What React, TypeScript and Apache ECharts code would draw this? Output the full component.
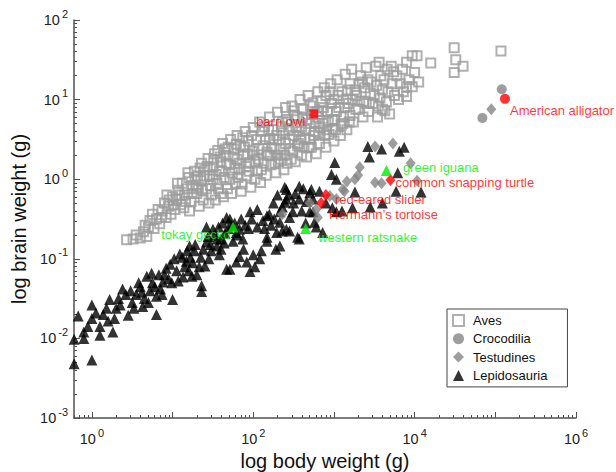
import React, { useEffect, useRef } from "react";
import * as echarts from "echarts";

// All values are log10 of grams: [log body weight, log brain weight]
const avesLog: number[][] = [
  [0.43, -0.76], [0.51, -0.75], [0.6, -0.74], [0.68, -0.72], [0.64, -0.66], [0.7, -0.6], [0.72, -0.52], [0.77, -0.62], [0.75, -0.44],
  [0.8, -0.5], [0.84, -0.56], [0.87, -0.4], [0.9, -0.3], [0.92, -0.48], [0.95, -0.34], [0.98, -0.44], [1.0, -0.22], [0.96, -0.26],
  [1.03, -0.38], [1.05, -0.25], [1.07, -0.14], [1.1, -0.32], [1.12, -0.05], [1.14, -0.36], [1.15, -0.2], [1.18, -0.12], [1.2, 0.02], [1.21, -0.4],
  [1.23, -0.28], [1.25, -0.08], [1.27, 0.1], [1.3, -0.18], [1.31, 0.04], [1.33, -0.34], [1.35, -0.02], [1.36, 0.2], [1.38, -0.26], [1.4, 0.12], [1.29, -0.12],
  [1.42, -0.12], [1.44, 0.26], [1.45, -0.3], [1.46, 0.05], [1.48, -0.2], [1.5, 0.15], [1.52, 0.32], [1.53, -0.26], [1.55, -0.05], [1.56, 0.36], [1.58, 0.1], [1.6, -0.18], [1.6, 0.22], [1.5, 0.0],
  [1.62, 0.45], [1.63, -0.22], [1.64, 0.02], [1.66, 0.3], [1.68, -0.12], [1.7, 0.18], [1.72, 0.5], [1.73, -0.18], [1.74, 0.08], [1.76, 0.38], [1.78, -0.05], [1.8, 0.25], [1.8, 0.55], [1.69, 0.4], [1.77, 0.14],
  [1.82, 0.12], [1.84, 0.42], [1.85, -0.15], [1.86, -0.06], [1.88, 0.3], [1.9, 0.6], [1.91, 0.16], [1.92, 0.04], [1.94, 0.48], [1.96, 0.2], [1.97, -0.1], [1.99, 0.35], [2.0, 0.65], [1.87, 0.52], [1.93, 0.32],
  [2.02, 0.0], [2.03, 0.22], [2.04, 0.5], [2.06, 0.25], [2.08, 0.72], [2.09, -0.04], [2.1, 0.12], [2.11, 0.6], [2.12, 0.42], [2.14, 0.66], [2.16, 0.05], [2.17, 0.34], [2.18, 0.3], [2.2, 0.78], [2.2, 0.5], [2.07, 0.38],
  [2.22, 0.18], [2.23, 0.4], [2.24, 0.62], [2.26, 0.38], [2.28, 0.08], [2.29, 0.55], [2.3, 0.84], [2.31, 0.22], [2.32, 0.5], [2.34, 0.25], [2.35, 0.66], [2.36, 0.72], [2.38, 0.12], [2.4, 0.9], [2.4, 0.45], [2.3, 0.3],
  [2.42, 0.2], [2.43, 0.72], [2.44, 0.62], [2.46, 0.38], [2.47, 0.25], [2.48, 0.92], [2.5, 0.55], [2.51, 0.8], [2.52, 0.22], [2.54, 0.78], [2.55, 0.42], [2.56, 0.45], [2.57, 0.6], [2.58, 1.0], [2.6, 0.3], [2.6, 0.66], [2.5, 0.86],
  [2.62, 0.88], [2.63, 0.4], [2.64, 0.52], [2.66, 0.28], [2.67, 0.75], [2.68, 1.05], [2.7, 0.7], [2.71, 0.92], [2.72, 0.4], [2.74, 0.96], [2.75, 0.55], [2.76, 0.6], [2.78, 0.32], [2.79, 0.85], [2.8, 1.1], [2.8, 0.78], [2.7, 0.5],
  [2.82, 0.45], [2.83, 0.65], [2.84, 0.98], [2.86, 0.7], [2.87, 0.9], [2.88, 1.15], [2.9, 0.4], [2.91, 0.62], [2.92, 0.85], [2.94, 0.56], [2.95, 1.1], [2.96, 1.2], [2.98, 0.75], [3.0, 1.0], [3.0, 0.48], [2.9, 1.05],
  [3.02, 0.62], [3.03, 0.85], [3.04, 1.25], [3.06, 0.9], [3.08, 0.55], [3.1, 1.1], [3.11, 0.7], [3.12, 0.78], [3.14, 1.32], [3.15, 1.0], [3.16, 0.62], [3.18, 0.95], [3.2, 1.2], [3.2, 0.8],
  [3.22, 1.38], [3.24, 0.72], [3.26, 1.12], [3.28, 1.05], [3.3, 0.88], [3.32, 0.98], [3.33, 1.3], [3.36, 0.78], [3.38, 1.15], [3.4, 0.95], [3.4, 1.4], [3.35, 1.22],
  [3.43, 0.85], [3.45, 1.08], [3.46, 1.22], [3.5, 1.05], [3.52, 1.42], [3.54, 0.78], [3.55, 0.92], [3.56, 1.47], [3.58, 1.3], [3.6, 1.12], [3.6, 0.88],
  [3.63, 0.86], [3.65, 0.97], [3.66, 1.38], [3.69, 0.82], [3.71, 1.42], [3.72, 1.2], [3.75, 1.05], [3.78, 1.3], [3.8, 1.0],
  [3.85, 1.38], [3.86, 1.1], [3.9, 1.47], [3.9, 1.16], [3.9, 1.04], [3.93, 1.25], [3.97, 1.55], [3.97, 1.16], [4.0, 1.34], [4.03, 1.55], [4.05, 1.22],
  [4.2, 1.46], [4.49, 1.65], [4.51, 1.5], [4.6, 1.42], [4.49, 1.34], [5.07, 1.61],
  [0.55, -0.7], [0.66, -0.58], [0.82, -0.38], [0.86, -0.48], [0.93, -0.2], [1.01, -0.32], [1.06, -0.05], [1.09, -0.2], [1.16, -0.28], [1.19, 0.08],
  [1.24, -0.18], [1.28, 0.0], [1.32, -0.1], [1.34, 0.14], [1.37, -0.14], [1.39, 0.04], [1.43, 0.16], [1.47, -0.08], [1.51, 0.24], [1.54, 0.06],
  [1.57, -0.12], [1.59, 0.28], [1.61, 0.1], [1.65, 0.38], [1.67, 0.2], [1.71, 0.0], [1.75, 0.28], [1.79, 0.44], [1.81, 0.02], [1.83, 0.2],
  [1.89, 0.4], [1.95, 0.1], [1.98, 0.55], [2.01, 0.3], [2.05, 0.1], [2.13, 0.2], [2.15, 0.5], [2.19, 0.62], [2.21, 0.3], [2.25, 0.5],
  [2.27, 0.2], [2.33, 0.38], [2.37, 0.58], [2.39, 0.3], [2.41, 0.75], [2.45, 0.5], [2.49, 0.35], [2.53, 0.65], [2.59, 0.5], [2.61, 0.78],
  [2.65, 0.62], [2.69, 0.4], [2.73, 0.82], [2.77, 0.7], [2.81, 0.58], [2.85, 0.85], [2.89, 0.55], [2.93, 0.72], [2.97, 0.95], [2.99, 0.62],
  [3.01, 0.75], [3.05, 1.05], [3.09, 0.68], [3.13, 0.9], [3.17, 1.12], [3.19, 0.72], [3.23, 1.0], [3.27, 0.88], [3.31, 1.2], [3.37, 0.98],
  [3.42, 1.25], [3.48, 0.95], [3.53, 1.18], [3.57, 1.02], [3.62, 1.25], [3.67, 1.1], [3.74, 1.35], [3.82, 1.2],
];

const crocodiliaLog: number[][] = [
  [5.08, 1.13], [4.84, 0.77],
];

const testudinesLog: number[][] = [
  [3.73, 0.45], [3.51, 0.41], [3.95, 0.2], [4.03, -0.02], [3.32, 0.15], [3.26, 0.0], [3.51, -0.04], [3.59, -0.05],
  [3.13, -0.15], [3.03, -0.25], [2.95, -0.21], [2.8, -0.48], [3.11, -0.13], [3.16, -0.03], [2.36, -0.44], [2.7, -0.3],
  [3.3, 0.05], [2.78, -0.38], [4.95, 0.88],
];

const lepidosauriaLog: number[][] = [
  [-0.22, -2.01], [-0.22, -2.32], [0.0, -2.27], [-0.17, -1.72], [0.0, -1.58], [0.0, -1.75], [-0.1, -1.92], [-0.1, -2.0],
  [0.1, -1.85], [0.1, -1.96], [0.26, -1.92], [0.22, -1.51], [0.14, -1.7], [0.38, -1.38], [0.45, -1.71], [0.3, -1.62], [0.2, -1.78], [0.33, -1.5],
  [0.63, -1.6], [0.55, -1.45], [0.68, -1.22], [0.8, -1.47], [0.8, -1.7], [0.97, -1.07], [1.0, -1.51], [0.88, -1.29],
  [0.6, -1.35], [0.72, -1.4], [0.5, -1.55], [0.9, -1.2], [0.75, -1.3], [0.85, -1.38], [0.65, -1.5], [0.95, -1.25],
  [1.13, -1.23], [1.09, -0.94], [1.17, -1.03], [1.36, -1.34], [1.36, -1.41], [1.4, -1.09], [1.27, -0.9], [1.42, -0.79],
  [1.05, -1.15], [1.2, -1.15], [1.25, -1.05], [1.3, -1.2], [1.15, -1.1], [1.35, -0.98], [1.45, -1.0], [1.22, -0.98], [1.48, -0.9], [1.21, -0.84],
  [1.55, -0.84], [1.67, -1.13], [1.71, -1.13], [1.83, -0.97], [1.92, -1.04], [1.96, -1.16], [1.79, -1.04], [1.6, -0.75],
  [1.42, -0.6], [1.71, -0.5], [1.5, -0.63], [1.83, -0.63], [1.87, -0.75], [1.65, -0.68], [1.75, -0.78], [1.58, -0.95],
  [1.96, -0.41], [1.98, -0.5], [1.9, -0.58], [1.62, -0.55], [1.8, -0.7], [1.67, -0.48], [1.55, -0.75], [1.79, -0.67],
  [2.08, -1.0], [2.17, -0.78], [2.33, -0.84], [2.45, -0.65], [2.57, -0.75], [2.36, -0.65], [2.17, -0.46], [2.41, -0.13],
  [2.57, -0.09], [2.41, -0.25], [2.49, -0.41], [2.39, -0.1], [2.39, -0.29], [2.2, -0.44], [2.33, -0.41], [2.33, -0.54],
  [2.45, -0.48], [2.29, -0.67], [2.41, -0.63], [2.17, -0.73], [2.05, -0.6], [2.12, -0.52], [2.25, -0.3], [2.3, -0.2], [2.5, -0.3], [2.05, -0.38],
  [2.72, -0.13], [2.57, -0.25], [2.74, -0.41], [2.76, -0.54], [2.55, -0.73], [2.86, -0.67], [2.7, -0.17], [2.74, -0.25],
  [2.7, -0.41], [3.01, 0.21], [2.97, 0.06], [3.03, 0.0], [3.03, -0.41], [2.98, -0.36], [2.65, -0.55], [2.6, -0.4], [2.82, -0.15], [2.9, -0.3],
  [3.42, 0.41], [3.59, 0.38], [3.81, 0.35], [3.87, 0.4], [3.44, 0.28], [3.79, 0.08], [3.77, -0.15], [4.08, -0.16],
  [3.26, -0.16], [3.23, -0.36], [3.1, -0.4], [3.45, -0.35], [3.6, -0.3],
  [-0.05, -1.85], [0.05, -1.68], [0.18, -1.62], [0.28, -1.75], [0.35, -1.58], [0.42, -1.45], [0.48, -1.4], [0.52, -1.62], [0.58, -1.3], [0.62, -1.42],
  [0.7, -1.55], [0.74, -1.18], [0.78, -1.35], [0.83, -1.2], [0.87, -1.45], [0.92, -1.12], [0.99, -1.3], [1.02, -1.0], [1.07, -1.28], [1.12, -0.98],
  [1.18, -0.9], [1.24, -1.22], [1.28, -0.82], [1.33, -1.1], [1.38, -0.88], [1.44, -0.72], [1.47, -0.82], [1.52, -0.7], [1.57, -0.6], [1.6, -0.88],
  [1.64, -0.8], [1.69, -0.62], [1.73, -0.58], [1.77, -0.55], [1.85, -0.5], [1.88, -0.88], [1.94, -0.62], [2.0, -0.95], [2.02, -1.1], [2.1, -0.9],
  [2.14, -0.62], [2.22, -0.58], [2.26, -0.5], [2.28, -0.88], [2.36, -0.35], [2.44, -0.2], [2.52, -0.18], [2.62, -0.12], [2.66, -0.28], [2.78, -0.6],
];

const highlightNames = [
  "barn owl", "American alligator", "red-eared slider", "Hermann’s tortoise",
  "common snapping turtle", "tokay gecko", "western ratsnake", "green iguana",
];
const highlightGroups = [
  "Aves", "Crocodilia", "Testudines", "Testudines", "Testudines", "Lepidosauria", "Lepidosauria", "Lepidosauria",
];
const highlightBodyLog = [2.75, 5.12, 2.9, 2.84, 3.7, 1.75, 2.65, 3.65];
const highlightBrainLog = [0.82, 1.01, -0.2, -0.3, -0.01, -0.6, -0.62, 0.11];

const groupNames = ["Aves", "Crocodilia", "Testudines", "Lepidosauria"];
const xDecades = [0, 1, 2, 3, 4, 5, 6];
const xLabelDecades = [0, 2, 4, 6];
const yDecades = [-3, -2, -1, 0, 1, 2];

const FONT = "Liberation Sans, Arial, Helvetica, sans-serif";
const X_MIN = Math.log10(0.6);
const X_MAX = 6;
const Y_MIN = -3;
const Y_MAX = 2;

function minorTicks(lo: number, hi: number): number[] {
  const out: number[] = [];
  for (let d = Math.floor(lo); d < hi; d++) {
    for (let k = 2; k <= 9; k++) {
      const v = d + Math.log10(k);
      if (v >= lo - 1e-9 && v <= hi + 1e-9) out.push(v);
    }
  }
  return out;
}

const symbolFor: Record<string, any> = {
  Aves: "rect",
  Crocodilia: "circle",
  Testudines: "diamond",
  Lepidosauria: "triangle",
};
const sizeFor: Record<string, any> = {
  Aves: 9,
  Crocodilia: 10,
  Testudines: [10, 12],
  Lepidosauria: 11,
};

const labelPlacement: Record<string, any> = {
  "barn owl": { position: "left", distance: 4, offset: [0, 8] },
  "American alligator": { position: "right", distance: 0, offset: [0, 12] },
  "red-eared slider": { position: "right", distance: 4, offset: [0, 4] },
  "Hermann’s tortoise": { position: "right", distance: 3, offset: [0, 11] },
  "common snapping turtle": { position: "right", distance: 0, offset: [0, 3] },
  "tokay gecko": { position: "left", distance: 0, offset: [3, 8] },
  "western ratsnake": { position: "right", distance: 7, offset: [0, 9] },
  "green iguana": { position: "right", distance: 11, offset: [0, -3] },
};

const powRich = {
  b: { fontSize: 14.5, fontFamily: FONT, color: "#222", lineHeight: 24 },
  e: { fontSize: 11, fontFamily: FONT, color: "#222", lineHeight: 10, verticalAlign: "top", padding: [0, 0, 0, 2] },
};
const powFormatter = (v: number) => `{b|10}{e|${Math.round(v)}}`;

const axisColor = "#505050";

export default function App() {
  const ref = useRef<HTMLDivElement>(null);

  useEffect(() => {
    if (!ref.current) return;
    const chart = echarts.init(ref.current, undefined, { renderer: "svg" });

    const highlightSeries = highlightNames.map((name, i) => {
      const group = highlightGroups[i];
      const color = group === "Lepidosauria" ? "#00ee00" : "#ff0000";
      const pl = labelPlacement[name];
      return {
        name: "highlight " + name,
        type: "scatter",
        symbol: symbolFor[group],
        symbolSize: sizeFor[group],
        itemStyle: { color, borderWidth: 0 },
        z: 5,
        data: [
          {
            name,
            value: [highlightBodyLog[i], highlightBrainLog[i]],
            label: {
              show: true,
              formatter: "{b}",
              position: pl.position,
              distance: pl.distance,
              offset: pl.offset,
              color,
              fontSize: 13,
              fontFamily: FONT,
            },
          },
        ],
      };
    });

    const option: any = {
      animation: false,
      backgroundColor: "#ffffff",
      grid: { left: 74, right: 40, top: 20, bottom: 54, containLabel: false, outerBoundsMode: "none" },
      legend: {
        show: true,
        orient: "vertical",
        left: 447,
        top: 309,
        data: groupNames,
        itemWidth: 11,
        itemHeight: 11,
        itemGap: 4.3,
        padding: [4.5, 20, 4.5, 5],
        borderColor: "#444",
        borderWidth: 1,
        borderRadius: 0,
        backgroundColor: "#fff",
        selectedMode: false,
        textStyle: { fontSize: 13, fontFamily: FONT, color: "#111", lineHeight: 14, padding: [0, 0, 0, 4] },
      },
      xAxis: [
        {
          type: "value",
          min: X_MIN,
          max: X_MAX,
          position: "bottom",
          name: "log body weight (g)",
          nameLocation: "middle",
          nameGap: 31,
          nameTextStyle: { fontSize: 20, fontFamily: FONT, color: "#111" },
          axisLine: { show: true, onZero: false, lineStyle: { color: axisColor, width: 1.5 } },
          axisTick: { show: true, inside: true, length: 6, customValues: xDecades, lineStyle: { color: axisColor, width: 1 } },
          axisLabel: { customValues: xLabelDecades, formatter: powFormatter, rich: powRich, margin: 9 },
          splitLine: { show: false },
        },
        {
          type: "value",
          min: X_MIN,
          max: X_MAX,
          position: "bottom",
          axisLine: { show: false, onZero: false },
          axisTick: { show: true, inside: true, length: 3, customValues: minorTicks(X_MIN, X_MAX), lineStyle: { color: axisColor, width: 1 } },
          axisLabel: { show: false },
          splitLine: { show: false },
        },
      ],
      yAxis: [
        {
          type: "value",
          min: Y_MIN,
          max: Y_MAX,
          interval: 1,
          position: "left",
          name: "log brain weight (g)",
          nameLocation: "middle",
          nameGap: 38,
          nameTextStyle: { fontSize: 20, fontFamily: FONT, color: "#111" },
          axisLine: { show: true, onZero: false, lineStyle: { color: axisColor, width: 1.5 } },
          axisTick: { show: true, inside: true, length: 6, customValues: yDecades, lineStyle: { color: axisColor, width: 1 } },
          axisLabel: { customValues: yDecades, formatter: powFormatter, rich: powRich, margin: 6 },
          splitLine: { show: false },
        },
        {
          type: "value",
          min: Y_MIN,
          max: Y_MAX,
          position: "left",
          axisLine: { show: false, onZero: false },
          axisTick: { show: true, inside: true, length: 3, customValues: minorTicks(Y_MIN, Y_MAX), lineStyle: { color: axisColor, width: 1 } },
          axisLabel: { show: false },
          splitLine: { show: false },
        },
      ],
      series: [
        {
          name: "Aves",
          type: "scatter",
          symbol: symbolFor.Aves,
          symbolSize: sizeFor.Aves,
          itemStyle: { color: "rgba(255,255,255,0)", borderColor: "#9c9c9c", borderWidth: 2 },
          data: avesLog,
          z: 2,
        },
        {
          name: "Lepidosauria",
          type: "scatter",
          symbol: symbolFor.Lepidosauria,
          symbolSize: sizeFor.Lepidosauria,
          itemStyle: { color: "#000000" },
          data: lepidosauriaLog,
          z: 3,
        },
        {
          name: "Testudines",
          type: "scatter",
          symbol: symbolFor.Testudines,
          symbolSize: sizeFor.Testudines,
          itemStyle: { color: "#858585" },
          data: testudinesLog,
          z: 3,
        },
        {
          name: "Crocodilia",
          type: "scatter",
          symbol: symbolFor.Crocodilia,
          symbolSize: sizeFor.Crocodilia,
          itemStyle: { color: "#858585" },
          data: crocodiliaLog,
          z: 3,
        },
        ...highlightSeries,
      ],
    };

    chart.setOption(option);
    return () => chart.dispose();
  }, []);

  return <div ref={ref} style={{ width: 616, height: 472, position: "absolute", left: 0, top: 0 }} />;
}
